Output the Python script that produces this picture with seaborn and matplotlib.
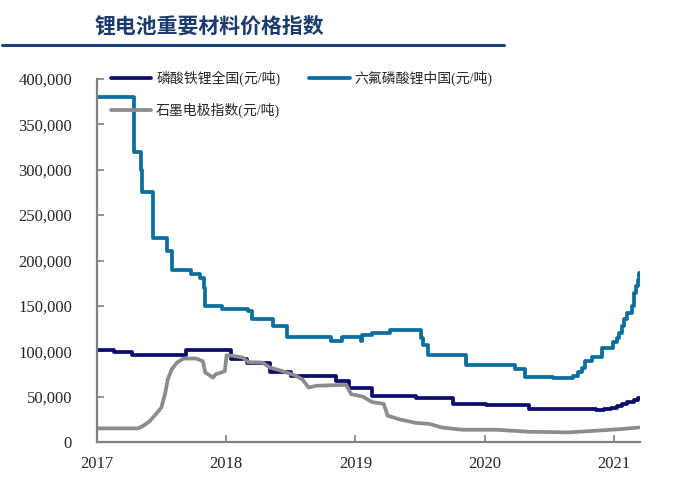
import pandas as pd
import matplotlib
matplotlib.use("Agg")
import matplotlib.pyplot as plt
import matplotlib.dates as mdates
import seaborn as sns

# 磷酸铁锂全国(元/吨) - step series
lfp_dates = ["2017-01-01", "2017-02-17", "2017-04-09", "2017-09-09", "2018-01-15",
             "2018-02-28", "2018-05-05", "2018-07-02", "2018-11-07", "2018-12-13",
             "2019-02-17", "2019-06-21", "2019-10-05", "2020-01-05", "2020-05-05",
             "2020-11-10", "2020-12-02", "2020-12-24", "2021-01-08", "2021-01-22",
             "2021-02-06", "2021-02-25", "2021-03-08", "2021-03-14"]
lfp_values = [101500, 99500, 96000, 101000, 91000,
              87500, 77000, 73000, 67000, 60000,
              51000, 48000, 42000, 41000, 36000,
              35000, 36500, 38000, 40000, 42000,
              44000, 46000, 49000, 49000]

# 六氟磷酸锂中国(元/吨) - step series
lipf6_dates = ["2017-01-01", "2017-04-16", "2017-05-05", "2017-05-08", "2017-06-07",
               "2017-07-17", "2017-07-31", "2017-09-24", "2017-10-19", "2017-10-30",
               "2017-11-01", "2017-12-20", "2018-03-04", "2018-03-15", "2018-05-12",
               "2018-06-21", "2018-10-23", "2018-11-24", "2019-01-16", "2019-01-19",
               "2019-02-17", "2019-04-09", "2019-07-05", "2019-07-10", "2019-07-26",
               "2019-11-10", "2020-03-28", "2020-04-23", "2020-07-13", "2020-09-06",
               "2020-09-20", "2020-10-01", "2020-10-12", "2020-10-31", "2020-11-29",
               "2020-12-28", "2021-01-08", "2021-01-15", "2021-01-22", "2021-01-30",
               "2021-02-06", "2021-02-21", "2021-02-25", "2021-03-04", "2021-03-08",
               "2021-03-12", "2021-03-14"]
lipf6_values = [380000, 320000, 300000, 275000, 225000,
                210000, 190000, 185000, 181000, 170000,
                150000, 147000, 144000, 136000, 128000,
                116000, 111000, 116000, 111000, 118000,
                120500, 123000, 115000, 107000, 96000,
                85000, 80000, 72000, 70000, 73000,
                77000, 82000, 89000, 94000, 104000,
                110000, 115000, 120000, 128000, 135000,
                142000, 150000, 164000, 172000, 178000,
                186000, 186000]

# 石墨电极指数(元/吨)
graph_dates = ["2017-01-01", "2017-04-27", "2017-05-12", "2017-05-30", "2017-06-17",
               "2017-07-02", "2017-07-13", "2017-07-20", "2017-07-31", "2017-08-15",
               "2017-09-02", "2017-10-08", "2017-10-27", "2017-11-03", "2017-11-25",
               "2017-12-02", "2017-12-28", "2018-01-02", "2018-01-19", "2018-02-17",
               "2018-03-04", "2018-04-13", "2018-05-05", "2018-06-10", "2018-07-17",
               "2018-08-04", "2018-08-22", "2018-09-13", "2018-12-06", "2018-12-20",
               "2019-01-22", "2019-02-17", "2019-03-22", "2019-04-02", "2019-05-05",
               "2019-06-21", "2019-07-28", "2019-09-02", "2019-10-30", "2020-02-03",
               "2020-05-05", "2020-08-26", "2020-11-10", "2021-01-22", "2021-03-12"]
graph_values = [15000, 15000, 18000, 23000, 31000,
                38000, 54500, 69000, 80000, 87500,
                92000, 92000, 89000, 76500, 71000,
                74500, 78000, 95500, 95000, 93000,
                88000, 87500, 82000, 78000, 73000,
                69000, 60000, 62000, 63000, 52700,
                50000, 44000, 42000, 29000, 25000,
                21000, 20000, 16000, 13500, 13500,
                11300, 10600, 12400, 14300, 16000]

labels = ["磷酸铁锂全国(元/吨)", "六氟磷酸锂中国(元/吨)", "石墨电极指数(元/吨)"]
colors = ["#0c0c70", "#0a6e9e", "#8c8c8c"]
yticks = [0, 50000, 100000, 150000, 200000, 250000, 300000, 350000, 400000]


def main():
    sns.set_style("ticks")
    plt.rcParams["font.family"] = ["Liberation Serif", "Noto Sans CJK SC", "DejaVu Sans"]

    lfp = pd.DataFrame({"date": pd.to_datetime(lfp_dates), "value": lfp_values})
    lipf6 = pd.DataFrame({"date": pd.to_datetime(lipf6_dates), "value": lipf6_values})
    graph = pd.DataFrame({"date": pd.to_datetime(graph_dates), "value": graph_values})

    fig = plt.figure(figsize=(6.73, 4.83), dpi=100)
    ax = fig.add_axes([97 / 673, 1 - 442 / 483, 543 / 673, 363 / 483])

    lw = 2.7
    sns.lineplot(data=lfp, x="date", y="value", ax=ax, color=colors[0], lw=lw,
                 drawstyle="steps-post", estimator=None, label=labels[0])
    sns.lineplot(data=graph, x="date", y="value", ax=ax, color=colors[2], lw=lw,
                 estimator=None, label=labels[2])
    sns.lineplot(data=lipf6, x="date", y="value", ax=ax, color=colors[1], lw=lw,
                 drawstyle="steps-post", estimator=None, label=labels[1])

    ax.set_xlim(pd.Timestamp("2017-01-01"), pd.Timestamp("2021-03-15"))
    ax.set_ylim(0, 400000)
    ax.set_yticks(yticks)
    ax.set_yticklabels([f"{v:,}" for v in yticks])
    ax.xaxis.set_major_locator(mdates.YearLocator())
    ax.xaxis.set_major_formatter(mdates.DateFormatter("%Y"))
    ax.set_xlabel(""); ax.set_ylabel("")
    ax.tick_params(direction="in", length=5, width=1.2, color="#808080",
                   labelsize=12, pad=10)
    ax.tick_params(axis="y", pad=18)
    for side in ["top", "right"]:
        ax.spines[side].set_visible(False)
    for side in ["left", "bottom"]:
        ax.spines[side].set_color("#808080")
        ax.spines[side].set_linewidth(1.6)

    h, l = ax.get_legend_handles_labels()
    order = [l.index(labels[0]), l.index(labels[2]), l.index(labels[1])]
    ax.legend([h[i] for i in order], [l[i] for i in order], ncol=2,
              loc="upper left", bbox_to_anchor=(111 / 673, 1 - 71 / 483),
              bbox_transform=fig.transFigure, frameon=False, fontsize=10,
              handlelength=2.9, handletextpad=0.35, columnspacing=2.1,
              labelspacing=1.15, borderpad=0, borderaxespad=0)

    fig.text(95 / 673, 1 - 26 / 483, "锂电池重要材料价格指数", fontsize=15,
             fontweight="bold", color="#1b3a6e", va="center", ha="left",
             family=["Noto Sans CJK SC"])
    fig.add_artist(plt.Line2D([2 / 673, 504 / 673], [1 - 45 / 483, 1 - 45 / 483],
                              color="#1b3f7a", lw=2.2, transform=fig.transFigure))

    fig.savefig("out.png", dpi=100)
    plt.close(fig)


if __name__ == "__main__":
    main()
